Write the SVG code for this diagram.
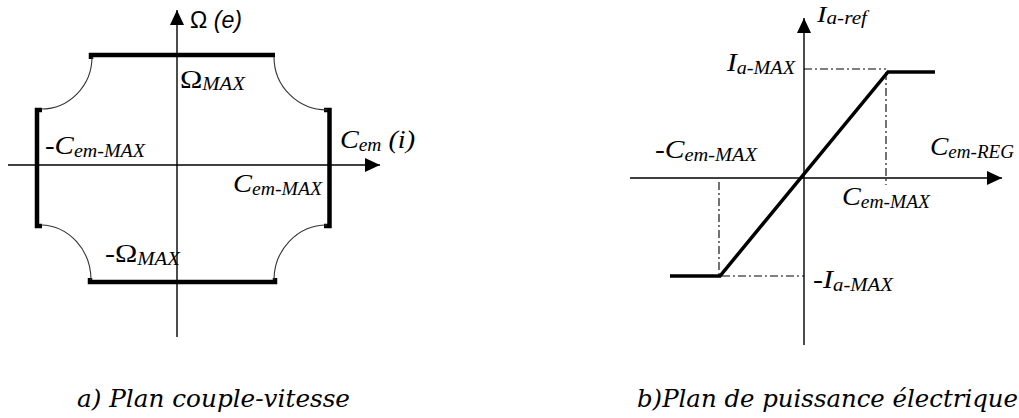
<svg xmlns="http://www.w3.org/2000/svg" width="1019" height="418" viewBox="0 0 1019 418">
<style>
.axis{stroke:#000;stroke-width:1.4;fill:none}
.thick{stroke:#000;stroke-width:4.5;fill:none}
.arc{stroke:#333;stroke-width:1.1;fill:none}
.line{stroke:#000;stroke-width:3.5;fill:none}
.dd{stroke:#000;stroke-width:1.1;fill:none;stroke-dasharray:8 3 2 3}
.lbl{font-family:"Liberation Serif","Times New Roman",serif;font-style:italic;font-size:26px;fill:#000}
.sub{font-size:18px}
.up{font-style:normal}
.cap{font-family:"DejaVu Serif",serif;font-style:italic;font-size:24px;fill:#000}
</style>
<defs>
<marker id="arr" markerUnits="userSpaceOnUse" markerWidth="15" markerHeight="14" refX="15" refY="7" orient="auto">
<path d="M0,0 L15,7 L0,14 z" fill="#000"/>
</marker>
</defs>

<g id="plan-a">
<g id="axes-a">
<path class="axis" d="M177 337 V10" marker-end="url(#arr)"/>
<path class="axis" d="M8 165 H380" marker-end="url(#arr)"/>
</g>
<g id="limits-a">
<path class="thick" d="M91 59 V55 H275"/>
<path class="thick" d="M42 110 H37 V226 H42"/>
<path class="thick" d="M324 110 H329.5 V226 H324"/>
<path class="thick" d="M90 278 V282 H275 V278"/>
<path class="arc" d="M92 57 A51 52 0 0 1 41 109"/>
<path class="arc" d="M274 57 A53 53 0 0 0 327 110"/>
<path class="arc" d="M41 225 A51 55 0 0 1 91 280"/>
<path class="arc" d="M327 225 A53 55 0 0 0 274 280"/>
</g>
<g id="labels-a">
<text x="190" y="28" font-family="Liberation Sans, Arial, sans-serif" font-size="23" textLength="52" lengthAdjust="spacingAndGlyphs">Ω <tspan font-style="italic">(e)</tspan></text>
<text class="lbl" x="180" y="88" textLength="65" lengthAdjust="spacingAndGlyphs"><tspan class="up">Ω</tspan><tspan class="sub" dy="2">MAX</tspan></text>
<text class="lbl" x="45" y="154" textLength="100" lengthAdjust="spacingAndGlyphs"><tspan class="up">-</tspan>C<tspan class="sub" dy="3">em-MAX</tspan></text>
<text class="lbl" x="340" y="148" textLength="75" lengthAdjust="spacingAndGlyphs">C<tspan class="sub" dy="3">em</tspan><tspan dy="-3"> (i)</tspan></text>
<text class="lbl" x="233" y="192" textLength="89" lengthAdjust="spacingAndGlyphs">C<tspan class="sub" dy="3">em-MAX</tspan></text>
<text class="lbl" x="105" y="262" textLength="75" lengthAdjust="spacingAndGlyphs"><tspan class="up">-Ω</tspan><tspan class="sub" dy="3">MAX</tspan></text>
</g>
<text class="cap" x="77" y="407" textLength="273" lengthAdjust="spacingAndGlyphs">a) Plan couple-vitesse</text>
</g>

<g id="plan-b">
<g id="axes-b">
<path class="axis" d="M804 345 V18" marker-end="url(#arr)"/>
<path class="axis" d="M630 178 H1002" marker-end="url(#arr)"/>
</g>
<g id="guides-b">
<path class="dd" d="M804 69 H886"/>
<path class="dd" d="M886 72 V185"/>
<path class="dd" d="M719 182 V275"/>
<path class="dd" d="M722 276 H804"/>
</g>
<g id="curve-b">
<path class="line" d="M670 276 H720 L888 72 H935"/>
</g>
<g id="labels-b">
<text class="lbl" x="817" y="22" font-size="24" textLength="50" lengthAdjust="spacingAndGlyphs" style="font-size:24px">I<tspan class="sub" dy="2">a-ref</tspan></text>
<text class="lbl" x="727" y="71" textLength="68" lengthAdjust="spacingAndGlyphs">I<tspan class="sub" dy="3">a-MAX</tspan></text>
<text class="lbl" x="655" y="158" textLength="102" lengthAdjust="spacingAndGlyphs"><tspan class="up">-</tspan>C<tspan class="sub" dy="3">em-MAX</tspan></text>
<text class="lbl" x="930" y="155" textLength="84" lengthAdjust="spacingAndGlyphs">C<tspan class="sub" dy="3">em-REG</tspan></text>
<text class="lbl" x="842" y="205" textLength="88" lengthAdjust="spacingAndGlyphs">C<tspan class="sub" dy="3">em-MAX</tspan></text>
<text class="lbl" x="813" y="288" textLength="80" lengthAdjust="spacingAndGlyphs"><tspan class="up">-</tspan>I<tspan class="sub" dy="3">a-MAX</tspan></text>
</g>
<text class="cap" x="637" y="407" textLength="381" lengthAdjust="spacingAndGlyphs">b)Plan de puissance électrique</text>
</g>
</svg>
